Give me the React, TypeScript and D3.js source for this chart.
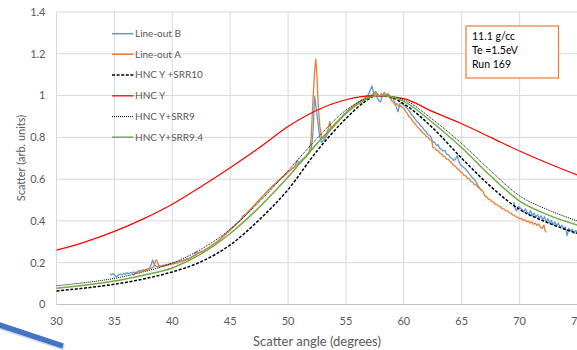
import React from "react";
import * as d3 from "d3";

type P = [number, number];

const xTicks = [30, 35, 40, 45, 50, 55, 60, 65, 70, 75];
const yTicks = [0, 0.2, 0.4, 0.6, 0.8, 1, 1.2, 1.4];

const lineOutB1: P[] = [
  [34.6,0.146],[34.75,0.142],[34.9,0.148],[35.05,0.138],[35.2,0.133],[35.35,0.142],[35.5,0.146],[35.65,0.141],[35.8,0.149],[35.95,0.145],[36.1,0.152],[36.25,0.147],[36.4,0.153],[36.55,0.15],[36.7,0.156],[36.85,0.152],[37.0,0.158],[37.15,0.162],[37.3,0.159],[37.45,0.166],[37.6,0.163],[37.75,0.168],[37.9,0.17],[38.05,0.174],[38.2,0.195],[38.3,0.213],[38.45,0.19],[38.6,0.184],[38.75,0.18],[38.9,0.186],[39.05,0.183],[39.2,0.189],[39.35,0.186],[39.5,0.192],[39.65,0.19],[39.8,0.197],[39.95,0.194],[40.1,0.2],[40.25,0.198],[40.4,0.204],[40.55,0.202],[40.7,0.209],[40.85,0.207],[41.0,0.214],[41.15,0.212],[41.3,0.221],[41.45,0.218],[41.6,0.227],[41.75,0.231],[41.9,0.236],[42.05,0.252],[42.2,0.244],[42.35,0.25],[42.5,0.254],[42.65,0.252],[42.8,0.262],[42.95,0.266],[43.1,0.27],[43.25,0.276],[43.4,0.283],[43.55,0.287],[43.7,0.294],[43.85,0.3],[44.0,0.307],[44.15,0.312],[44.3,0.322],[44.45,0.33],[44.6,0.336],[44.75,0.345],[44.9,0.352],[45.05,0.362],[45.2,0.37],[45.35,0.376],[45.5,0.385],[45.65,0.392],[45.8,0.398],[45.95,0.41],[46.1,0.424],[46.25,0.43],[46.4,0.434],[46.55,0.445],[46.7,0.452],[46.85,0.46],[47.0,0.47],[47.15,0.478],[47.3,0.49],[47.45,0.497],[47.6,0.506],[47.75,0.514],[47.9,0.522],[48.05,0.533],[48.2,0.54],[48.35,0.55],[48.5,0.557],[48.65,0.566],[48.8,0.574],[48.95,0.58],[49.1,0.59],[49.25,0.596],[49.4,0.605],[49.55,0.612],[49.7,0.62],[49.85,0.627],[50.0,0.634],[50.15,0.64],[50.3,0.648],[50.45,0.655],[50.6,0.662],[50.8,0.69],[50.95,0.676],[51.1,0.686],[51.25,0.695],[51.4,0.702],[51.55,0.71],[51.7,0.718],[51.85,0.726],[52.0,0.74],[52.15,0.82],[52.3,0.995],[52.45,0.93],[52.6,0.86],[52.75,0.8],[52.9,0.775],[53.05,0.785],[53.2,0.795],[53.35,0.81],[53.5,0.825],[53.65,0.833],[53.8,0.845],[53.95,0.852],[54.1,0.866],[54.25,0.872],[54.4,0.88],[54.55,0.893],[54.7,0.9],[54.85,0.912],[55.0,0.918],[55.15,0.925],[55.3,0.935],[55.45,0.94],[55.6,0.948],[55.75,0.955],[55.9,0.96],[56.05,0.968],[56.2,0.972],[56.35,0.98],[56.5,0.975],[56.65,0.99],[56.8,0.998],[56.95,1.005],[57.1,1.025],[57.25,1.046],[57.4,1.01],[57.55,1.02],[57.7,0.99],[57.85,0.975],[58.0,0.97],[58.15,1.0],[58.3,1.015],[58.45,0.995],[58.6,1.01],[58.75,1.0],[58.9,0.985],[59.05,0.99],[59.2,0.97],[59.35,0.945],[59.5,0.922],[59.65,0.96],[59.8,0.965],[59.95,0.955],[60.1,0.95],[60.25,0.94],[60.4,0.93],[60.55,0.92],[60.7,0.905],[60.85,0.9],[61.0,0.885],[61.15,0.875],[61.3,0.868],[61.45,0.855],[61.6,0.85],[61.75,0.835],[61.9,0.828],[62.05,0.815],[62.2,0.81],[62.35,0.802],[62.5,0.775],[62.65,0.778],[62.8,0.762],[62.95,0.765],[63.1,0.748],[63.25,0.742],[63.4,0.735],[63.55,0.738],[63.7,0.72],[63.85,0.716],[64.0,0.705],[64.15,0.7],[64.3,0.69],[64.45,0.694],[64.6,0.712],[64.75,0.685],[64.9,0.668],[65.05,0.662],[65.2,0.655],[65.35,0.648],[65.5,0.636],[65.65,0.625],[65.8,0.615],[65.95,0.605],[66.1,0.598],[66.25,0.585],[66.4,0.57],[66.55,0.556],[66.7,0.545]
];

const lineOutB2: P[] = [
  [69.5,0.492],[69.6,0.46],[69.75,0.448],[69.9,0.47],[70.05,0.462],[70.2,0.455],[70.35,0.442],[70.5,0.458],[70.65,0.44],[70.8,0.432],[70.95,0.45],[71.1,0.425],[71.25,0.438],[71.4,0.418],[71.55,0.43],[71.7,0.412],[71.85,0.425],[72.0,0.405],[72.15,0.42],[72.3,0.398],[72.45,0.41],[72.6,0.39],[72.75,0.402],[72.9,0.382],[73.05,0.395],[73.2,0.375],[73.35,0.39],[73.5,0.368],[73.65,0.38],[73.8,0.36],[73.95,0.372],[74.1,0.33],[74.25,0.365],[74.4,0.352],[74.55,0.36],[74.7,0.34],[74.85,0.355],[75.0,0.345]
];

const lineOutA: P[] = [
  [36.6,0.14],[36.75,0.147],[36.9,0.152],[37.05,0.157],[37.2,0.155],[37.35,0.162],[37.5,0.16],[37.65,0.166],[37.8,0.164],[37.95,0.17],[38.1,0.172],[38.25,0.176],[38.4,0.182],[38.55,0.21],[38.65,0.213],[38.8,0.19],[38.95,0.182],[39.1,0.186],[39.25,0.183],[39.4,0.189],[39.55,0.187],[39.7,0.192],[39.85,0.19],[40.0,0.196],[40.15,0.195],[40.3,0.2],[40.45,0.198],[40.6,0.205],[40.75,0.203],[40.9,0.21],[41.05,0.209],[41.2,0.216],[41.35,0.214],[41.5,0.222],[41.65,0.225],[41.8,0.23],[41.95,0.234],[42.1,0.24],[42.25,0.244],[42.4,0.249],[42.55,0.253],[42.7,0.258],[42.85,0.262],[43.0,0.268],[43.15,0.272],[43.3,0.279],[43.45,0.284],[43.6,0.29],[43.75,0.296],[43.9,0.302],[44.05,0.308],[44.2,0.316],[44.35,0.322],[44.5,0.33],[44.65,0.338],[44.8,0.346],[44.95,0.354],[45.1,0.362],[45.25,0.37],[45.4,0.377],[45.55,0.386],[45.7,0.394],[45.85,0.402],[46.0,0.41],[46.15,0.42],[46.3,0.428],[46.45,0.437],[46.6,0.446],[46.75,0.455],[46.9,0.464],[47.05,0.473],[47.2,0.482],[47.35,0.49],[47.5,0.499],[47.65,0.508],[47.8,0.517],[47.95,0.525],[48.1,0.534],[48.25,0.543],[48.4,0.551],[48.55,0.56],[48.7,0.567],[48.85,0.576],[49.0,0.583],[49.15,0.592],[49.3,0.598],[49.45,0.607],[49.6,0.613],[49.75,0.621],[49.9,0.628],[50.05,0.636],[50.2,0.642],[50.35,0.65],[50.5,0.656],[50.65,0.664],[50.8,0.67],[50.95,0.678],[51.1,0.684],[51.25,0.692],[51.4,0.698],[51.55,0.706],[51.7,0.715],[51.85,0.735],[52.0,0.8],[52.15,0.98],[52.3,1.12],[52.4,1.174],[52.5,1.09],[52.6,0.96],[52.75,0.85],[52.9,0.8],[53.05,0.795],[53.2,0.805],[53.35,0.82],[53.5,0.845],[53.6,0.875],[53.7,0.84],[53.85,0.845],[54.0,0.855],[54.15,0.865],[54.3,0.872],[54.45,0.885],[54.6,0.89],[54.75,0.902],[54.9,0.91],[55.05,0.918],[55.2,0.928],[55.35,0.935],[55.5,0.942],[55.65,0.95],[55.8,0.955],[55.95,0.962],[56.1,0.968],[56.25,0.972],[56.4,0.978],[56.55,0.982],[56.7,0.99],[56.85,0.985],[57.0,1.0],[57.15,0.995],[57.3,1.008],[57.45,1.0],[57.6,1.018],[57.75,1.005],[57.9,0.995],[58.05,1.01],[58.2,1.0],[58.35,1.012],[58.5,0.998],[58.65,1.005],[58.8,0.99],[58.95,0.975],[59.1,0.968],[59.25,0.955],[59.4,0.962],[59.55,0.948],[59.7,0.952],[59.85,0.945],[60.0,0.938],[60.15,0.925],[60.3,0.915],[60.45,0.898],[60.6,0.894],[60.75,0.878],[60.9,0.87],[61.05,0.858],[61.2,0.85],[61.35,0.84],[61.5,0.832],[61.65,0.82],[61.8,0.815],[61.95,0.803],[62.1,0.8],[62.25,0.788],[62.4,0.787],[62.5,0.752],[62.65,0.75],[62.8,0.738],[62.95,0.738],[63.1,0.724],[63.25,0.722],[63.4,0.71],[63.55,0.708],[63.7,0.696],[63.85,0.695],[64.0,0.684],[64.15,0.677],[64.3,0.665],[64.45,0.662],[64.6,0.65],[64.75,0.646],[64.9,0.634],[65.05,0.63],[65.2,0.618],[65.35,0.616],[65.5,0.604],[65.65,0.602],[65.8,0.588],[65.95,0.586],[66.1,0.574],[66.25,0.572],[66.4,0.56],[66.55,0.558],[66.7,0.546],[66.85,0.542],[67.0,0.518],[67.15,0.516],[67.3,0.504],[67.45,0.502],[67.6,0.492],[67.75,0.49],[67.9,0.48],[68.05,0.478],[68.2,0.47],[68.35,0.468],[68.5,0.458],[68.65,0.458],[68.8,0.448],[68.95,0.448],[69.1,0.44],[69.25,0.438],[69.4,0.428],[69.55,0.428],[69.7,0.418],[69.85,0.418],[70.0,0.41],[70.15,0.412],[70.3,0.403],[70.45,0.405],[70.6,0.397],[70.75,0.399],[70.9,0.39],[71.05,0.396],[71.2,0.384],[71.35,0.39],[71.5,0.378],[71.65,0.386],[71.8,0.37],[71.95,0.364],[72.1,0.38],[72.2,0.354],[72.3,0.345]
];

const curveAngles = [30, 32.5, 35, 37.5, 40, 42.5, 45, 47.5, 50, 52.5, 55, 56.5, 57.7, 59, 60, 62.5, 65, 67.5, 70, 72.5, 75];
const hncySrr10 = [0.065, 0.079, 0.097, 0.122, 0.156, 0.205, 0.285, 0.405, 0.55, 0.735, 0.89, 0.965, 1.0, 0.99, 0.96, 0.845, 0.7, 0.565, 0.455, 0.39, 0.34];
const hncySrr9 = [0.09, 0.105, 0.125, 0.156, 0.198, 0.265, 0.36, 0.49, 0.64, 0.795, 0.93, 0.98, 1.0, 0.995, 0.98, 0.885, 0.77, 0.64, 0.52, 0.452, 0.4];
const hncySrr94 = [0.078, 0.093, 0.112, 0.14, 0.175, 0.242, 0.34, 0.465, 0.61, 0.77, 0.915, 0.975, 1.0, 0.993, 0.972, 0.87, 0.75, 0.615, 0.495, 0.428, 0.38];
const hncyAngles = [30, 32.5, 35, 37.5, 40, 42.5, 45, 47.5, 50, 52.5, 55, 57.5, 60, 62.5, 65, 67.5, 70, 72.5, 75];
const hncy = [0.26, 0.3, 0.35, 0.41, 0.48, 0.565, 0.655, 0.75, 0.852, 0.93, 0.98, 1.0, 0.985, 0.923, 0.865, 0.8, 0.735, 0.675, 0.62];

const legendLabels = ["Line-out B", "Line-out A", "HNC Y +SRR10", "HNC Y", "HNC Y+SRR9", "HNC Y+SRR9.4"];
const infoLines = ["11.1 g/cc", "Te =1.5eV", "Run 169"];

const W = 577, H = 350;
const FONT = "Lato, 'Open Sans', sans-serif";

export default function App() {
  const x = d3.scaleLinear().domain([30, 75]).range([56.5, 577.5]);
  const y = d3.scaleLinear().domain([0, 1.4]).range([304.5, 12]);
  const lin = d3.line<P>().x(d => x(d[0])).y(d => y(d[1]));
  const smooth = d3.line<P>().x(d => x(d[0])).y(d => y(d[1])).curve(d3.curveMonotoneX);
  const zipC = (vals: number[]): P[] => curveAngles.map((a, i) => [a, vals[i]]);
  const redPts: P[] = hncyAngles.map((a, i) => [a, hncy[i]]);

  const legendStyles = [
    { stroke: "#5B9BD5", dash: undefined, w: 1.5 },
    { stroke: "#ED7D31", dash: undefined, w: 1.5 },
    { stroke: "#000", dash: "3,1.6", w: 1.5 },
    { stroke: "#FF0000", dash: undefined, w: 1.3 },
    { stroke: "#000", dash: "1,1", w: 1 },
    { stroke: "#70AD47", dash: undefined, w: 1.5 },
  ];
  const legendY = [33.7, 54.2, 74.9, 95.8, 116.6, 137.2];

  return (
    <svg width={W} height={H} style={{ position: "absolute", left: 0, top: 0, background: "#fff" }} fontFamily={FONT}>
      <defs>
        <clipPath id="plot"><rect x={56} y={0} width={W} height={305} /></clipPath>
      </defs>
      {yTicks.filter(t => t > 0).map(t => (
        <line key={"gy" + t} x1={56.5} x2={W} y1={y(t)} y2={y(t)} stroke="#d9d9d9" strokeWidth={1} />
      ))}
      {xTicks.map(t => (
        <line key={"gx" + t} x1={x(t)} x2={x(t)} y1={y(1.4)} y2={y(0)} stroke="#d9d9d9" strokeWidth={1} />
      ))}
      <line x1={56.5} x2={W} y1={y(0)} y2={y(0)} stroke="#bfbfbf" strokeWidth={1} />
      {yTicks.map(t => (
        <text key={"ty" + t} x={45.5} y={y(t)} dy="0.35em" textAnchor="end" fontSize={11} fill="#595959">{String(t)}</text>
      ))}
      {xTicks.map(t => (
        <text key={"tx" + t} x={x(t)} y={321} dy="0.35em" textAnchor="middle" fontSize={11} fill="#595959">{String(t)}</text>
      ))}
      <text x={317} y={341.5} dy="0.35em" textAnchor="middle" fontSize={13} fill="#595959">Scatter angle (degrees)</text>
      <text transform={`translate(21,158) rotate(-90)`} textAnchor="middle" dy="0.35em" fontSize={11} fill="#595959">Scatter (arb. units)</text>

      <g clipPath="url(#plot)" fill="none">
        <path d={lin(lineOutB1) || ""} stroke="#5B9BD5" strokeWidth={1.3} strokeLinejoin="round" />
        <path d={lin(lineOutB2) || ""} stroke="#5B9BD5" strokeWidth={1.3} strokeLinejoin="round" />
        <path d={lin(lineOutA) || ""} stroke="#ED7D31" strokeWidth={1.3} strokeLinejoin="round" />
        <path d={smooth(zipC(hncySrr10)) || ""} stroke="#000" strokeWidth={1.5} strokeDasharray="3,1.6" />
        <path d={smooth(redPts) || ""} stroke="#FF0000" strokeWidth={1.2} />
        <path d={smooth(zipC(hncySrr9)) || ""} stroke="#000" strokeWidth={1} strokeDasharray="1,1" />
        <path d={smooth(zipC(hncySrr94)) || ""} stroke="#70AD47" strokeWidth={1.5} />
      </g>

      {legendLabels.map((lab, i) => (
        <g key={lab}>
          <line x1={112} x2={133.5} y1={legendY[i]} y2={legendY[i]} stroke={legendStyles[i].stroke}
            strokeWidth={legendStyles[i].w} strokeDasharray={legendStyles[i].dash} />
          <text x={135} y={legendY[i]} dy="0.35em" fontSize={10} fill="#595959">{lab}</text>
        </g>
      ))}

      <rect x={466} y={26} width={92.5} height={52} fill="#fff" stroke="#ED7D31" strokeWidth={1.2} />
      {infoLines.map((t, i) => (
        <text key={t} x={472} y={[36, 50, 64][i]} dy="0.35em" fontSize={10.5} fill="#000">{t}</text>
      ))}

      <line x1={-2} y1={326.5} x2={64} y2={348} stroke="#9fb3d0" strokeWidth={5} opacity={0.5} />
      <line x1={-2} y1={324.5} x2={63} y2={346} stroke="#4472C4" strokeWidth={5.5} />
    </svg>
  );
}
